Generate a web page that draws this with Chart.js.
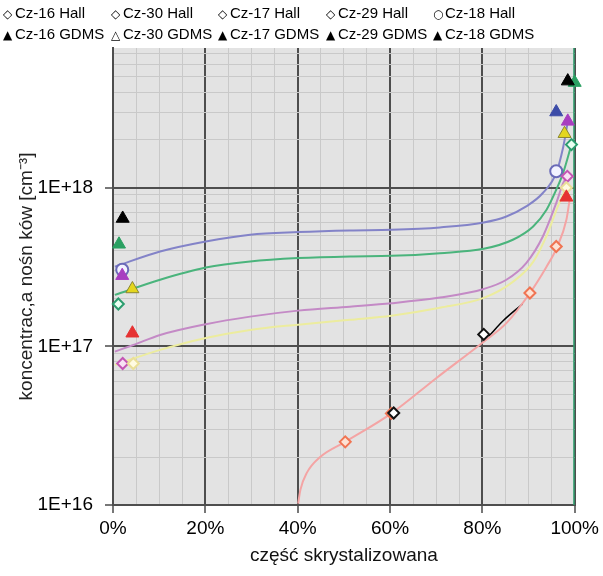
<!DOCTYPE html>
<html>
<head>
<meta charset="utf-8">
<script src="https://cdn.jsdelivr.net/npm/chart.js@4.4.1/dist/chart.umd.min.js"></script>
<style>
html, body { margin: 0; padding: 0; background: #fff; }
#wrap { position: relative; width: 603px; height: 576px; }
#legend {
    position: absolute; left: 3px; top: 3px;
    display: grid; grid-template-columns: 108px 107px 108px 107px 150px;
    font: 15px "Liberation Sans", Arial, sans-serif; color: #000;
    line-height: 20px; white-space: nowrap;
}
#legend .sym { display: inline-block; width: 12px; font-size: 12px; font-weight: bold; font-family: "DejaVu Sans", sans-serif; }
</style>
</head>
<body>
<div id="wrap">
    <canvas id="chart" width="603" height="576"></canvas>
    <div id="legend"></div>
</div>
<script>
// Osie
const xTicks = [0, 20, 40, 60, 80, 100];
const yTicks = [1e16, 1e17, 1e18];

// Pomiary Hall (część skrystalizowana [%], koncentracja [cm-3])
const cz16HallX = [60.8, 80.3];
const cz16HallY = [3.8e16, 1.19e17];
const cz30HallX = [4.4, 98.2];
const cz30HallY = [7.8e16, 1.0e18];
const cz17HallX = [1.15, 99.3];
const cz17HallY = [1.85e17, 1.87e18];
const cz29HallX = [2.1, 98.4];
const cz29HallY = [7.8e16, 1.18e18];
const cz18HallX = [2.0, 96.0];
const cz18HallY = [3.04e17, 1.27e18];
const redHallX = [50.3, 60.3, 90.3, 96.0];
const redHallY = [2.5e16, 3.78e16, 2.17e17, 4.26e17];

// Pomiary GDMS
const cz16GdmsX = [2.1, 98.5];
const cz16GdmsY = [6.4e17, 4.7e18];
const cz30GdmsX = [4.2, 97.8];
const cz30GdmsY = [2.3e17, 2.19e18];
const cz17GdmsX = [1.3, 100];
const cz17GdmsY = [4.4e17, 4.6e18];
const cz29GdmsX = [2.0, 98.5];
const cz29GdmsY = [2.79e17, 2.62e18];
const cz18GdmsX = [96.0];
const cz18GdmsY = [3.0e18];
const redGdmsX = [4.2, 98.2];
const redGdmsY = [1.21e17, 8.7e17];

// Krzywe rozkładu
const blueCurveX = [0.4, 10.2, 20.1, 29.7, 40.1, 51.3, 60.3, 70.8, 80.3, 85.2, 89.5, 93.1, 96.0, 97.5, 98.5];
const blueCurveY = [3.18e17, 3.96e17, 4.58e17, 5.05e17, 5.25e17, 5.38e17, 5.43e17, 5.62e17, 6.04e17, 6.59e17, 7.62e17, 9.26e17, 1.24e18, 1.8e18, 2.6e18];
const greenCurveX = [0.4, 10.2, 20.1, 29.7, 40.1, 51.3, 60.3, 70.8, 80.3, 86.6, 91.0, 93.9, 96.0, 97.5, 99.3];
const greenCurveY = [2.11e17, 2.63e17, 3.14e17, 3.43e17, 3.60e17, 3.69e17, 3.72e17, 3.87e17, 4.12e17, 4.70e17, 5.70e17, 7.27e17, 9.71e17, 1.24e18, 1.87e18];
const pinkCurveX = [0.4, 4.4, 10.2, 20.1, 29.7, 40.1, 51.3, 60.3, 70.8, 80.3, 85.2, 89.5, 93.1, 96.0, 97.5, 98.4];
const pinkCurveY = [9.27e16, 1.02e17, 1.18e17, 1.38e17, 1.54e17, 1.68e17, 1.78e17, 1.87e17, 2.03e17, 2.30e17, 2.63e17, 3.35e17, 4.93e17, 8.0e17, 1.07e18, 1.18e18];
const yellowCurveX = [0.4, 10.2, 20.1, 29.7, 40.1, 51.3, 60.3, 70.8, 80.3, 86.6, 91.0, 94.0, 96.5, 98.2];
const yellowCurveY = [7.64e16, 9.5e16, 1.13e17, 1.27e17, 1.37e17, 1.47e17, 1.56e17, 1.75e17, 2.02e17, 2.55e17, 3.41e17, 5.05e17, 7.82e17, 1.0e18];
const redCurveX = [40.1, 40.6, 42.0, 44.8, 50.4, 60.3, 70.0, 80.3, 85.2, 90.3, 93.9, 96.2, 98.2, 98.9];
const redCurveY = [1.02e16, 1.25e16, 1.6e16, 2.0e16, 2.51e16, 3.78e16, 6.3e16, 1.07e17, 1.40e17, 2.17e17, 3.18e17, 4.23e17, 6.28e17, 8.39e17];
const blackCurveX = [81.4, 84.5, 88.7];
const blackCurveY = [1.16e17, 1.45e17, 1.85e17];
const edgeLineX = [100, 100];
const edgeLineY = [1e16, 7.6e18];

function pts(xs, ys) {
    return xs.map((x, i) => ({ x: x, y: ys[i] }));
}

function hall(label, sym, xs, ys, border, fill, style) {
    return {
        label: label, sym: sym, data: pts(xs, ys), order: 1, clip: false,
        pointStyle: style || 'rectRot', pointRadius: style === 'circle' ? 6 : 5.5,
        pointBorderWidth: 2, pointBorderColor: border, pointBackgroundColor: fill, showLine: false
    };
}

function gdms(label, sym, xs, ys, fill, border) {
    return {
        label: label, sym: sym, data: pts(xs, ys), order: 0, clip: false,
        pointStyle: 'triangle', pointRadius: 7.5,
        pointBorderWidth: 1, pointBorderColor: border || fill, pointBackgroundColor: fill, showLine: false
    };
}

function curve(xs, ys, color, width) {
    return {
        data: pts(xs, ys), showLine: true, pointRadius: 0, order: 2,
        borderColor: color, borderWidth: width || 2,
        tension: 0.4, cubicInterpolationMode: 'monotone'
    };
}

const legendSets = [
    hall('Cz-16 Hall', '◇', cz16HallX, cz16HallY, '#111', '#fff'),
    hall('Cz-30 Hall', '◇', cz30HallX, cz30HallY, '#eadf98', '#fffbe2'),
    hall('Cz-17 Hall', '◇', cz17HallX, cz17HallY, '#2a9d6e', '#eafff2'),
    hall('Cz-29 Hall', '◇', cz29HallX, cz29HallY, '#c456b4', '#f8e2f4'),
    hall('Cz-18 Hall', '○', cz18HallX, cz18HallY, '#6a6ab8', '#f2f2ff', 'circle'),
    gdms('Cz-16 GDMS', '▲', cz16GdmsX, cz16GdmsY, '#000'),
    gdms('Cz-30 GDMS', '△', cz30GdmsX, cz30GdmsY, '#e4d61e', '#8a8632'),
    gdms('Cz-17 GDMS', '▲', cz17GdmsX, cz17GdmsY, '#2aa062'),
    gdms('Cz-29 GDMS', '▲', cz29GdmsX, cz29GdmsY, '#a83ec0'),
    gdms('Cz-18 GDMS', '▲', cz18GdmsX, cz18GdmsY, '#3c4ca8')
];

const extraSets = [
    hall('', '', redHallX, redHallY, '#f07452', '#fde2d4'),
    gdms('', '', redGdmsX, redGdmsY, '#e63232'),
    curve(blueCurveX, blueCurveY, '#8383c8'),
    curve(greenCurveX, greenCurveY, '#4ab47c'),
    curve(pinkCurveX, pinkCurveY, '#c48ac6'),
    curve(yellowCurveX, yellowCurveY, '#ecec9e'),
    curve(redCurveX, redCurveY, '#f4a4a4'),
    curve(blackCurveX, blackCurveY, '#000', 1.5),
    Object.assign(curve(edgeLineX, edgeLineY, '#2f9e6e', 3), { tension: 0, cubicInterpolationMode: 'default' })
];

// Legenda w dwóch wierszach, jak w oryginale
const legendEl = document.getElementById('legend');
legendSets.forEach(ds => {
    const item = document.createElement('div');
    item.innerHTML = '<span class="sym">' + ds.sym + '</span>' + ds.label;
    legendEl.appendChild(item);
});

const plotBg = {
    id: 'plotBg',
    beforeDraw(chart) {
        const { ctx, chartArea: a } = chart;
        ctx.save();
        ctx.fillStyle = '#e3e3e3';
        ctx.fillRect(a.left, a.top, a.width, a.height);
        ctx.restore();
    }
};

const isDecade = v => Math.abs(Math.log10(v) - Math.round(Math.log10(v))) < 1e-6;
const font = { family: '"Liberation Sans", Arial, sans-serif', size: 19 };

new Chart(document.getElementById('chart'), {
    type: 'scatter',
    data: { datasets: legendSets.concat(extraSets) },
    plugins: [plotBg],
    options: {
        responsive: false,
        animation: false,
        layout: { padding: { top: 48, right: 27, left: 0, bottom: 0 } },
        plugins: { legend: { display: false }, tooltip: { enabled: false } },
        scales: {
            x: {
                type: 'linear', min: 0, max: 100,
                afterFit: s => { s.height = 71; },
                afterBuildTicks: s => {
                    const t = [];
                    for (let v = 0; v <= 100; v += 5) t.push({ value: v });
                    s.ticks = t;
                },
                ticks: {
                    autoSkip: false, maxRotation: 0, padding: 4, color: '#000', font: font,
                    callback: v => xTicks.includes(v) ? v + '%' : ''
                },
                grid: {
                    color: c => c.tick && c.tick.value % 20 === 0 ? '#4e4e4e' : '#c9c9c9',
                    lineWidth: c => c.tick && c.tick.value % 20 === 0 ? 2 : 1,
                    tickColor: c => c.tick && c.tick.value % 20 === 0 ? '#777' : 'rgba(0,0,0,0)',
                    tickLength: 8
                },
                border: { color: '#4e4e4e', width: 2 },
                title: { display: true, text: 'część skrystalizowana', color: '#111', font: font, padding: { top: 0, bottom: 9 } }
            },
            y: {
                type: 'logarithmic', min: 1e16, max: 7.6e18,
                afterFit: s => { s.width = 113; },
                afterBuildTicks: s => {
                    const t = [];
                    for (let e = 16; e <= 18; e++) {
                        for (let m = 1; m <= 9; m++) {
                            const v = m * Math.pow(10, e);
                            if (v <= s.max) t.push({ value: v });
                        }
                    }
                    s.ticks = t;
                },
                ticks: {
                    autoSkip: false, padding: 12, color: '#000', font: font,
                    callback: v => yTicks.some(t => Math.abs(t - v) / t < 1e-6) ? '1E+' + Math.round(Math.log10(v)) : ''
                },
                grid: {
                    color: c => c.tick && isDecade(c.tick.value) ? '#4e4e4e' : '#c9c9c9',
                    lineWidth: c => c.tick && isDecade(c.tick.value) ? 2 : 1,
                    tickColor: c => c.tick && isDecade(c.tick.value) ? '#777' : 'rgba(0,0,0,0)',
                    tickLength: 8
                },
                border: { color: '#4e4e4e', width: 2 },
                title: { display: true, text: 'koncentrac,a nośn ków [cm⁻³]', color: '#222', font: font, padding: { top: 15, bottom: 0 } }
            }
        }
    }
});
</script>
</body>
</html>
